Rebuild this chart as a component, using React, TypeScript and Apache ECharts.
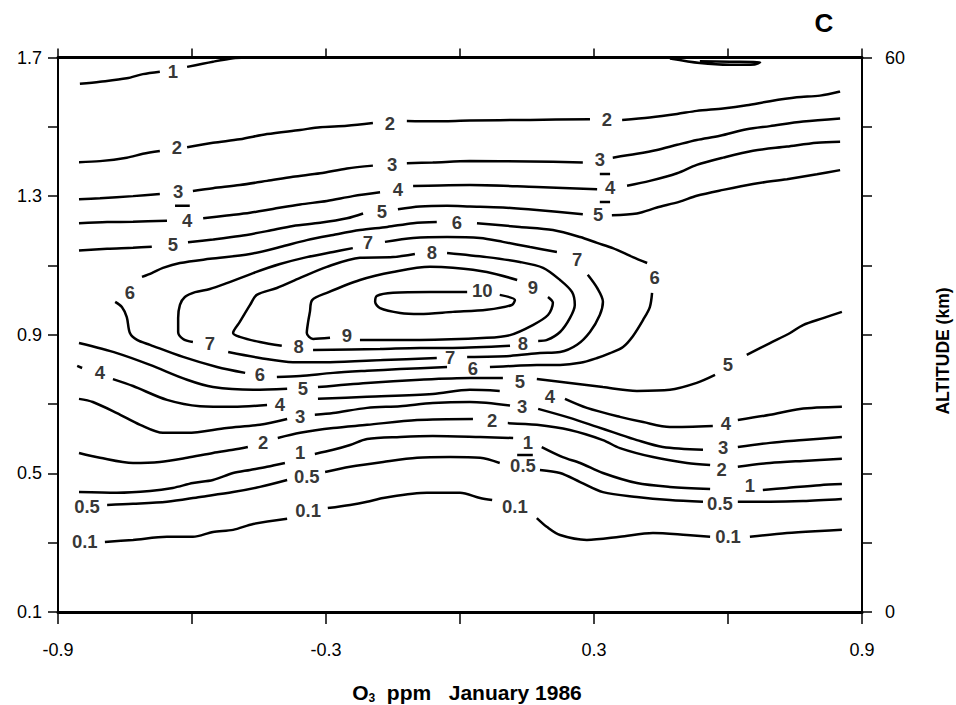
import React, { useEffect, useRef } from "react";
import * as echarts from "echarts";

type Pt = [number, number];

const FONT = "'Liberation Sans', Arial, Helvetica, sans-serif";

// Tick labels that are printed
const xLabelTicks = [-0.9, -0.3, 0.3, 0.9];
const yLabelTicks = [0.1, 0.5, 0.9, 1.3, 1.7];
const altLabelTicks = [0, 60];

// ---- contour 0.1 ----
const c01Segs: Pt[][] = [
  [[-0.795, 0.302], [-0.732, 0.308], [-0.656, 0.317], [-0.598, 0.317], [-0.553, 0.331], [-0.508, 0.337], [-0.463, 0.354], [-0.387, 0.369]],
  [[-0.296, 0.4], [-0.246, 0.409], [-0.208, 0.418], [-0.172, 0.429], [-0.074, 0.444], [0.0, 0.444], [0.045, 0.429], [0.072, 0.423]],
  [[0.172, 0.371], [0.195, 0.345], [0.224, 0.322], [0.284, 0.308], [0.358, 0.317], [0.432, 0.328], [0.508, 0.322], [0.56, 0.317]],
  [[0.649, 0.317], [0.732, 0.328], [0.806, 0.334], [0.855, 0.337]],
];
const c01Labels: Pt[] = [[-0.84, 0.302], [-0.34, 0.394], [0.123, 0.403], [0.6, 0.317]];

// ---- contour 0.5 ----
const c05Segs: Pt[][] = [
  [[-0.79, 0.409], [-0.732, 0.412], [-0.656, 0.418], [-0.582, 0.432], [-0.508, 0.446], [-0.448, 0.461], [-0.387, 0.481]],
  [[-0.302, 0.504], [-0.246, 0.519], [-0.172, 0.533], [-0.096, 0.545], [-0.022, 0.547], [0.045, 0.545], [0.089, 0.53]],
  [[0.128, 0.553], [0.163, 0.553]],
  [[0.179, 0.51], [0.224, 0.501], [0.269, 0.475], [0.32, 0.446], [0.396, 0.432], [0.47, 0.423], [0.544, 0.418]],
  [[0.622, 0.418], [0.694, 0.418], [0.768, 0.42], [0.855, 0.426]],
];
const c05Labels: Pt[] = [[-0.835, 0.403], [-0.343, 0.49], [0.141, 0.524], [0.582, 0.412]];

// ---- contour 1 ----
const c1Segs: Pt[][] = [
  [[-0.851, 1.624], [-0.806, 1.63], [-0.746, 1.64], [-0.71, 1.652], [-0.672, 1.659]],
  [[-0.611, 1.673], [-0.553, 1.688], [-0.508, 1.698], [-0.481, 1.7]],
  [[0.47, 1.697], [0.537, 1.684], [0.604, 1.679], [0.66, 1.68], [0.672, 1.686], [0.604, 1.688], [0.537, 1.689]],
  [[-0.853, 0.446], [-0.768, 0.444], [-0.694, 0.449], [-0.643, 0.458], [-0.598, 0.472], [-0.553, 0.481], [-0.508, 0.501], [-0.47, 0.51], [-0.432, 0.519], [-0.392, 0.53]],
  [[-0.325, 0.556], [-0.284, 0.568], [-0.246, 0.582], [-0.208, 0.599], [-0.134, 0.605], [-0.061, 0.608], [0.045, 0.605], [0.119, 0.602]],
  [[0.183, 0.576], [0.23, 0.547], [0.269, 0.53], [0.32, 0.501], [0.396, 0.472], [0.47, 0.461], [0.56, 0.455]],
  [[0.678, 0.452], [0.732, 0.458], [0.806, 0.466], [0.855, 0.469]],
];
const c1Labels: Pt[] = [[-0.643, 1.659], [-0.358, 0.559], [0.152, 0.588], [0.649, 0.466]];

// ---- contour 2 ----
const c2Segs: Pt[][] = [
  [[-0.853, 1.398], [-0.806, 1.401], [-0.746, 1.411], [-0.71, 1.422], [-0.672, 1.43]],
  [[-0.611, 1.441], [-0.553, 1.454], [-0.493, 1.464], [-0.432, 1.479], [-0.358, 1.491], [-0.313, 1.499], [-0.253, 1.503], [-0.195, 1.511]],
  [[-0.119, 1.517], [-0.061, 1.516], [0.022, 1.518], [0.157, 1.52], [0.291, 1.522]],
  [[0.363, 1.52], [0.425, 1.527], [0.486, 1.537], [0.53, 1.546], [0.589, 1.553], [0.642, 1.562], [0.694, 1.574], [0.754, 1.585], [0.806, 1.59], [0.851, 1.602]],
  [[-0.853, 0.559], [-0.806, 0.545], [-0.732, 0.53], [-0.672, 0.533], [-0.611, 0.545], [-0.553, 0.559], [-0.508, 0.568], [-0.475, 0.576]],
  [[-0.408, 0.602], [-0.358, 0.617], [-0.284, 0.631], [-0.208, 0.64], [-0.096, 0.654], [0.029, 0.657]],
  [[0.107, 0.645], [0.172, 0.64], [0.246, 0.625], [0.32, 0.596], [0.358, 0.573], [0.432, 0.547], [0.508, 0.53], [0.56, 0.524]],
  [[0.622, 0.519], [0.694, 0.53], [0.768, 0.536], [0.855, 0.542]],
];
const c2Labels: Pt[] = [[-0.634, 1.441], [-0.157, 1.51], [0.329, 1.522], [-0.441, 0.588], [0.072, 0.654], [0.586, 0.51]];

// ---- contour 3 ----
const c3Segs: Pt[][] = [
  [[-0.853, 1.291], [-0.806, 1.294], [-0.732, 1.3], [-0.672, 1.306]],
  [[-0.598, 1.315], [-0.553, 1.323], [-0.493, 1.332], [-0.432, 1.344], [-0.374, 1.356], [-0.313, 1.366], [-0.253, 1.38], [-0.195, 1.388]],
  [[-0.119, 1.395], [-0.061, 1.397], [0.022, 1.401], [0.157, 1.4], [0.275, 1.397]],
  [[0.342, 1.411], [0.396, 1.422], [0.441, 1.433], [0.486, 1.448], [0.53, 1.462], [0.582, 1.474], [0.642, 1.493], [0.694, 1.502], [0.768, 1.515], [0.851, 1.524]],
  [[-0.853, 0.715], [-0.822, 0.706], [-0.768, 0.674], [-0.716, 0.64], [-0.665, 0.617], [-0.611, 0.617], [-0.522, 0.631], [-0.448, 0.64], [-0.387, 0.657]],
  [[-0.325, 0.669], [-0.284, 0.674], [-0.208, 0.689], [-0.134, 0.694], [-0.061, 0.703], [0.022, 0.706], [0.112, 0.696]],
  [[0.175, 0.686], [0.246, 0.66], [0.307, 0.634], [0.342, 0.619], [0.396, 0.596], [0.454, 0.576], [0.544, 0.568]],
  [[0.622, 0.576], [0.694, 0.588], [0.768, 0.596], [0.855, 0.605]],
];
const c3Labels: Pt[] = [[-0.631, 1.313], [-0.152, 1.392], [0.313, 1.406], [-0.358, 0.663], [0.139, 0.694], [0.589, 0.576]];

// ---- contour 4 ----
const c4Segs: Pt[][] = [
  [[-0.853, 1.222], [-0.79, 1.225], [-0.732, 1.226], [-0.656, 1.229]],
  [[-0.638, 1.272], [-0.605, 1.272]],
  [[-0.575, 1.236], [-0.522, 1.244], [-0.47, 1.252], [-0.419, 1.263], [-0.358, 1.276], [-0.298, 1.286], [-0.24, 1.3], [-0.179, 1.311]],
  [[-0.105, 1.329], [-0.045, 1.331], [0.022, 1.332], [0.172, 1.326], [0.307, 1.32]],
  [[0.313, 1.364], [0.336, 1.364]],
  [[0.374, 1.33], [0.425, 1.344], [0.486, 1.366], [0.53, 1.39], [0.589, 1.411], [0.656, 1.431], [0.732, 1.443], [0.799, 1.454], [0.851, 1.457]],
  [[-0.857, 0.81], [-0.846, 0.804]],
  [[-0.777, 0.772], [-0.732, 0.752], [-0.656, 0.712], [-0.582, 0.694], [-0.508, 0.692], [-0.432, 0.697]],
  [[-0.318, 0.715], [-0.208, 0.721], [-0.061, 0.729], [0.022, 0.741], [0.089, 0.738]],
  [[0.235, 0.715], [0.284, 0.689], [0.358, 0.663], [0.41, 0.648], [0.47, 0.634], [0.566, 0.637]],
  [[0.622, 0.654], [0.694, 0.669], [0.761, 0.686], [0.855, 0.692]],
];
const c4Labels: Pt[] = [[-0.611, 1.229], [-0.139, 1.318], [0.336, 1.326], [-0.806, 0.79], [-0.403, 0.7], [0.201, 0.721], [0.595, 0.643]];

// ---- contour 5 ----
const c5Segs: Pt[][] = [
  [[-0.853, 1.143], [-0.79, 1.148], [-0.732, 1.151], [-0.69, 1.154]],
  [[-0.609, 1.167], [-0.553, 1.175], [-0.493, 1.185], [-0.432, 1.199], [-0.374, 1.214], [-0.313, 1.223], [-0.253, 1.236], [-0.217, 1.25]],
  [[-0.139, 1.262], [-0.09, 1.27], [-0.029, 1.272], [0.022, 1.27], [0.096, 1.267], [0.172, 1.26], [0.275, 1.248]],
  [[0.313, 1.283], [0.336, 1.283]],
  [[0.34, 1.245], [0.396, 1.25], [0.441, 1.267], [0.492, 1.284], [0.53, 1.301], [0.589, 1.318], [0.656, 1.335], [0.732, 1.349], [0.799, 1.363], [0.851, 1.375]],
  [[-0.853, 0.876], [-0.768, 0.847], [-0.694, 0.813], [-0.611, 0.77], [-0.553, 0.749], [-0.463, 0.741], [-0.387, 0.744]],
  [[-0.318, 0.749], [-0.208, 0.761], [-0.09, 0.77], [0.022, 0.775], [0.096, 0.775]],
  [[0.172, 0.772], [0.246, 0.761], [0.32, 0.749], [0.396, 0.738], [0.47, 0.741], [0.53, 0.761], [0.571, 0.784]],
  [[0.642, 0.842], [0.694, 0.876], [0.739, 0.905], [0.768, 0.928], [0.813, 0.948], [0.855, 0.966]],
];
const c5Labels: Pt[] = [[-0.643, 1.161], [-0.175, 1.255], [0.309, 1.246], [-0.352, 0.746], [0.134, 0.764], [0.6, 0.813]];

// ---- contour 6 ----
const c6Segs: Pt[][] = [
  [[-0.712, 1.067], [-0.69, 1.078], [-0.665, 1.093], [-0.627, 1.107], [-0.56, 1.119], [-0.47, 1.133], [-0.403, 1.153], [-0.343, 1.173], [-0.284, 1.188], [-0.224, 1.202], [-0.163, 1.211], [-0.105, 1.222], [-0.052, 1.225]],
  [[0.038, 1.222], [0.134, 1.211], [0.208, 1.202], [0.269, 1.182], [0.307, 1.165], [0.342, 1.15], [0.387, 1.124], [0.419, 1.107]],
  [[0.43, 1.021], [0.425, 0.98], [0.41, 0.943], [0.387, 0.896], [0.365, 0.865], [0.336, 0.847], [0.307, 0.833], [0.269, 0.819], [0.224, 0.813], [0.172, 0.813], [0.119, 0.81], [0.067, 0.807]],
  [[-0.029, 0.807], [-0.134, 0.801], [-0.208, 0.796], [-0.284, 0.79], [-0.358, 0.781], [-0.41, 0.778]],
  [[-0.481, 0.79], [-0.544, 0.807], [-0.62, 0.836], [-0.694, 0.871], [-0.723, 0.885], [-0.739, 0.905], [-0.746, 0.951], [-0.757, 0.98], [-0.772, 0.995]],
];
const c6Labels: Pt[] = [[-0.739, 1.023], [-0.007, 1.225], [0.436, 1.064], [0.029, 0.804], [-0.448, 0.784]];

// ---- contour 7 ----
const c7Segs: Pt[][] = [
  [[-0.598, 0.879], [-0.62, 0.888], [-0.631, 0.908], [-0.631, 0.948], [-0.627, 0.986], [-0.616, 1.009], [-0.593, 1.023], [-0.56, 1.032], [-0.522, 1.049], [-0.463, 1.078], [-0.403, 1.104], [-0.343, 1.124], [-0.284, 1.139], [-0.24, 1.15]],
  [[-0.168, 1.168], [-0.105, 1.179], [-0.029, 1.182], [0.045, 1.179], [0.096, 1.168], [0.157, 1.153], [0.217, 1.139]],
  [[0.286, 1.073], [0.307, 1.035], [0.32, 0.995], [0.313, 0.957], [0.291, 0.908], [0.262, 0.871], [0.224, 0.85], [0.179, 0.847], [0.112, 0.839], [0.016, 0.836]],
  [[-0.052, 0.833], [-0.172, 0.827], [-0.291, 0.821], [-0.374, 0.821], [-0.448, 0.833], [-0.519, 0.85]],
];
const c7Labels: Pt[] = [[-0.206, 1.165], [0.262, 1.116], [-0.022, 0.833], [-0.56, 0.876]];

// ---- contour 8 ----
const c8Segs: Pt[][] = [
  [[-0.029, 1.136], [0.06, 1.124], [0.134, 1.11], [0.186, 1.093], [0.224, 1.058], [0.251, 1.023], [0.257, 0.986], [0.246, 0.948], [0.224, 0.908], [0.195, 0.885], [0.175, 0.882]],
  [[0.112, 0.868], [-0.016, 0.862], [-0.09, 0.862], [-0.179, 0.859], [-0.329, 0.856]],
  [[-0.399, 0.868], [-0.448, 0.879], [-0.493, 0.894], [-0.508, 0.905], [-0.493, 0.937], [-0.47, 0.986], [-0.455, 1.015], [-0.41, 1.035], [-0.358, 1.064], [-0.298, 1.096], [-0.224, 1.122], [-0.15, 1.124], [-0.101, 1.133]],
];
const c8Labels: Pt[] = [[-0.063, 1.136], [0.141, 0.876], [-0.361, 0.865]];

// ---- contour 9 ----
const c9Segs: Pt[][] = [
  [[-0.291, 0.891], [-0.329, 0.888], [-0.343, 0.905], [-0.34, 0.937], [-0.336, 0.966], [-0.331, 1.0], [-0.298, 1.021], [-0.224, 1.058], [-0.15, 1.081], [-0.067, 1.096], [-0.016, 1.093], [0.06, 1.081], [0.128, 1.058]],
  [[0.197, 1.009], [0.208, 0.992], [0.197, 0.957], [0.163, 0.928], [0.112, 0.899], [0.06, 0.891], [-0.09, 0.885], [-0.224, 0.885]],
];
const c9Labels: Pt[] = [[0.163, 1.035], [-0.253, 0.899]];

// ---- contour 10 ----
const c10Segs: Pt[][] = [
  [[0.089, 1.015], [0.123, 1.0], [0.116, 0.986], [0.06, 0.972], [-0.016, 0.966], [-0.09, 0.96], [-0.134, 0.963], [-0.179, 0.977], [-0.19, 0.995], [-0.186, 1.012], [-0.15, 1.021], [-0.067, 1.023], [0.016, 1.023]],
];
const c10Labels: Pt[] = [[0.05, 1.027]];

const contours = [
  { level: "0.1", segs: c01Segs, labels: c01Labels },
  { level: "0.5", segs: c05Segs, labels: c05Labels },
  { level: "1", segs: c1Segs, labels: c1Labels },
  { level: "2", segs: c2Segs, labels: c2Labels },
  { level: "3", segs: c3Segs, labels: c3Labels },
  { level: "4", segs: c4Segs, labels: c4Labels },
  { level: "5", segs: c5Segs, labels: c5Labels },
  { level: "6", segs: c6Segs, labels: c6Labels },
  { level: "7", segs: c7Segs, labels: c7Labels },
  { level: "8", segs: c8Segs, labels: c8Labels },
  { level: "9", segs: c9Segs, labels: c9Labels },
  { level: "10", segs: c10Segs, labels: c10Labels },
];

const near = (list: number[], v: number) => list.some((t) => Math.abs(t - v) < 1e-6);

export default function App() {
  const ref = useRef<HTMLDivElement>(null);

  useEffect(() => {
    if (!ref.current) return;
    const chart = echarts.init(ref.current, null, { renderer: "svg" });

    const series: any[] = [];
    contours.forEach((c) => {
      c.segs.forEach((seg) => {
        series.push({
          type: "line",
          xAxisIndex: 0,
          yAxisIndex: 0,
          data: seg,
          symbol: "none",
          showSymbol: false,
          smooth: 0.3,
          silent: true,
          lineStyle: { color: "#000", width: 2.5 },
          z: 2,
        });
      });
      series.push({
        type: "scatter",
        xAxisIndex: 0,
        yAxisIndex: 0,
        data: c.labels,
        symbolSize: 1,
        silent: true,
        itemStyle: { color: "rgba(0,0,0,0)" },
        label: {
          show: true,
          position: "inside",
          formatter: c.level,
          fontSize: 18.5,
          fontWeight: "bold",
          color: "#000",
          fontFamily: FONT,
        },
        z: 3,
      });
    });

    const xFmt = (v: number) => {
      const r = Math.round(v * 10) / 10;
      return near(xLabelTicks, r) ? r.toFixed(1) : "";
    };
    const yFmt = (v: number) => {
      const r = Math.round(v * 10) / 10;
      return near(yLabelTicks, r) ? r.toFixed(1) : "";
    };
    const altFmt = (v: number) => {
      const r = Math.round(v * 10) / 10;
      return near(altLabelTicks, r) ? String(Math.round(r)) : "";
    };

    const tickStyle = { color: "#000", width: 1.5 };
    const labelBase = { fontSize: 18, color: "#000", fontFamily: FONT };

    chart.setOption({
      animation: false,
      backgroundColor: "#fff",
      grid: { left: 58, right: 94, top: 57.5, bottom: 93, containLabel: false },
      xAxis: [
        {
          type: "value",
          position: "bottom",
          min: -0.9,
          max: 0.9,
          interval: 0.3,
          axisLine: { show: true, onZero: false, lineStyle: { color: "#000", width: 3 } },
          axisTick: { show: true, inside: false, length: 12, lineStyle: tickStyle },
          axisLabel: { ...labelBase, formatter: xFmt, margin: 29 },
          splitLine: { show: false },
        },
        {
          type: "value",
          position: "top",
          min: -0.9,
          max: 0.9,
          interval: 0.3,
          axisLine: { show: true, onZero: false, lineStyle: { color: "#000", width: 3 } },
          axisTick: { show: true, inside: false, length: 9, lineStyle: tickStyle },
          axisLabel: { show: false },
          splitLine: { show: false },
        },
      ],
      yAxis: [
        {
          type: "value",
          position: "left",
          min: 0.1,
          max: 1.7,
          interval: 0.2,
          axisLine: { show: true, onZero: false, lineStyle: { color: "#000", width: 2 } },
          axisTick: { show: true, inside: false, length: 10, lineStyle: tickStyle },
          axisLabel: { ...labelBase, formatter: yFmt, margin: 16 },
          splitLine: { show: false },
        },
        {
          type: "value",
          position: "right",
          min: 0,
          max: 60,
          interval: 7.5,
          axisLine: { show: true, onZero: false, lineStyle: { color: "#000", width: 2 } },
          axisTick: { show: true, inside: false, length: 10, lineStyle: tickStyle },
          axisLabel: { ...labelBase, formatter: altFmt, margin: 23 },
          splitLine: { show: false },
        },
      ],
      graphic: [
        {
          type: "text",
          x: 824,
          y: 23,
          style: {
            text: "C",
            fill: "#000",
            fontSize: 26,
            fontWeight: "bold",
            fontFamily: FONT,
            textAlign: "center",
            textVerticalAlign: "middle",
          },
        },
        {
          type: "text",
          x: 943,
          y: 351,
          rotation: Math.PI / 2,
          style: {
            text: "ALTITUDE (km)",
            fill: "#000",
            fontSize: 17.5,
            fontWeight: "bold",
            fontFamily: FONT,
            textAlign: "center",
            textVerticalAlign: "middle",
          },
        },
        {
          type: "text",
          x: 467,
          y: 692,
          style: {
            text: "{a|O}{s|3}{a|  ppm   January 1986}",
            fill: "#000",
            textAlign: "center",
            textVerticalAlign: "middle",
            rich: {
              a: { fontSize: 21, fontWeight: "bold", fontFamily: FONT, fill: "#000" },
              s: { fontSize: 12, fontWeight: "bold", fontFamily: FONT, fill: "#000", padding: [12, 0, 0, 0] },
            },
          },
        },
      ],
      series,
    });

    return () => chart.dispose();
  }, []);

  return (
    <div
      ref={ref}
      style={{ position: "fixed", left: 0, top: 0, width: 956, height: 705, background: "#fff" }}
    />
  );
}
